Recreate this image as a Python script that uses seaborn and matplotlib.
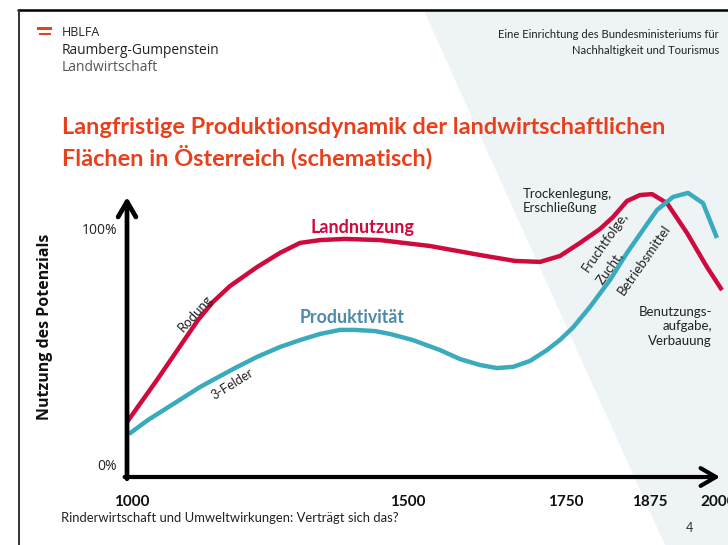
import numpy as np
import pandas as pd
import matplotlib
matplotlib.use('Agg')
import matplotlib.pyplot as plt
from matplotlib.patches import Polygon, Rectangle
from matplotlib.lines import Line2D
import seaborn as sns

# schematic curves (year, % of potential)
land_years = [990.9, 1045.3, 1119.6, 1146.7, 1177.5, 1226.4, 1268.1, 1304.3, 1340.6, 1385.9,
              1449.3, 1534.8, 1613.9, 1669.3, 1708.9, 1740.5, 1770.8, 1800.6, 1819.9, 1840.8,
              1860.1, 1878.7, 1906.2, 1943.0, 1979.8, 2007.3]
land_pct = [18.1, 35.9, 61.2, 68.8, 75.5, 83.5, 89.5, 93.7, 94.9, 95.4,
            94.9, 92.4, 88.6, 86.1, 85.7, 88.2, 93.7, 99.6, 104.6, 111.4,
            113.9, 114.3, 110.5, 97.9, 83.5, 73.8]

prod_years = [994.6, 1029.0, 1077.9, 1123.2, 1146.7, 1186.6, 1226.4, 1268.1, 1304.3, 1340.6,
              1376.8, 1404.0, 1440.2, 1467.4, 1507.9, 1550.6, 1582.3, 1613.9, 1640.8, 1666.1,
              1693.0, 1719.9, 1740.5, 1760.4, 1785.7, 1815.5, 1840.8, 1864.6, 1887.9, 1917.3,
              1944.8, 1972.4, 1998.1]
prod_pct = [13.1, 19.0, 26.2, 32.9, 35.9, 40.9, 45.6, 49.8, 52.7, 55.3,
            57.0, 57.0, 56.5, 55.3, 52.7, 48.5, 44.7, 42.2, 40.9, 41.4,
            43.9, 48.5, 52.8, 58.0, 66.7, 78.1, 89.5, 99.2, 107.6, 113.1,
            114.8, 110.5, 95.8]

tick_years = [1000, 1500, 1750, 1875, 2000]
tick_labels = ['1000', '1500', '1750', '1875', '2000']

land_df = pd.DataFrame({'Jahr': land_years, 'Nutzung': land_pct})
prod_df = pd.DataFrame({'Jahr': prod_years, 'Nutzung': prod_pct})

sns.set_theme(style='white')
plt.rcParams['font.family'] = ['Lato', 'DejaVu Sans']

RED = '#cf0a3d'
CYAN = '#3aabbd'
ORANGE = '#e8401c'
W, H = 728, 545

def fx(x):
    return x / W

def fy(y):
    return 1 - y / H

fig = plt.figure(figsize=(7.28, 5.45), dpi=100)
fig.patch.set_facecolor('white')

# light background shape on the right + slide frame
fig.patches.append(Polygon([(fx(424), fy(11)), (1, fy(11)), (1, 0), (fx(665), 0)],
                           closed=True, transform=fig.transFigure,
                           facecolor='#eef3f6', edgecolor='none', zorder=-5))
fig.add_artist(Line2D([fx(18), 1], [fy(10), fy(10)], color='black', lw=1.8))
fig.add_artist(Line2D([fx(19), fx(19)], [fy(10), 0], color='#333333', lw=1.4))

# logo + header
fig.patches.append(Rectangle((fx(37), fy(29.5)), 15 / W, 2.5 / H, transform=fig.transFigure,
                             facecolor=ORANGE, edgecolor='none'))
fig.patches.append(Rectangle((fx(38.5), fy(35)), 12 / W, 2.5 / H, transform=fig.transFigure,
                             facecolor=ORANGE, edgecolor='none'))
fig.text(fx(62), fy(32), 'HBLFA', family='Open Sans', fontsize=9, color='#222222', va='center')
fig.text(fx(62), fy(50), 'Raumberg-Gumpenstein', family='Open Sans', fontsize=9.9,
         color='#222222', va='center')
fig.text(fx(62), fy(67), 'Landwirtschaft', family='Open Sans', fontsize=10,
         color='#555555', va='center')
fig.text(fx(719), fy(34), 'Eine Einrichtung des Bundesministeriums für', fontsize=8.15,
         color='#222222', ha='right', va='center')
fig.text(fx(719), fy(50), 'Nachhaltigkeit und Tourismus', fontsize=8.15,
         color='#222222', ha='right', va='center')

fig.text(fx(62), fy(128), 'Langfristige Produktionsdynamik der landwirtschaftlichen',
         fontsize=16.9, fontweight='bold', color=ORANGE, va='center')
fig.text(fx(62), fy(157), 'Flächen in Österreich (schematisch)',
         fontsize=16.9, fontweight='bold', color=ORANGE, va='center')

fig.text(fx(61), fy(518), 'Rinderwirtschaft und Umweltwirkungen: Verträgt sich das?',
         fontsize=9.35, color='#222222', va='center')
fig.text(fx(689), fy(528), '4', fontsize=9, color='#333333', ha='center', va='center')

# chart area, non-linear time axis
yr_knots = [900, 1000, 1500, 1750, 1875, 2000, 2100]
pos_knots = [76.8, 132, 408, 566, 650, 718, 772.4]

def forward(v):
    return np.interp(v, yr_knots, pos_knots)

def inverse(v):
    return np.interp(v, pos_knots, yr_knots)

ax = fig.add_axes([fx(127), fy(477), (720 - 127) / W, (477 - 185) / H])
ax.patch.set_alpha(0)
ax.set_xscale('function', functions=(forward, inverse))
ax.set_xlim(inverse(127), inverse(720))
ax.set_ylim(-12 / 2.37, (465 - 185) / 2.37)

sns.lineplot(data=land_df, x='Jahr', y='Nutzung', color=RED, linewidth=3.2, ax=ax,
             clip_on=False, solid_capstyle='butt')
sns.lineplot(data=prod_df, x='Jahr', y='Nutzung', color=CYAN, linewidth=3.2, ax=ax,
             clip_on=False, solid_capstyle='butt')

for s in ax.spines.values():
    s.set_visible(False)
ax.annotate('', xy=(0, 0.959), xytext=(0, -0.006), xycoords='axes fraction',
            arrowprops=dict(arrowstyle='->,head_length=0.55,head_width=0.32', lw=3.4,
                            color='black', shrinkA=0, shrinkB=0, mutation_scale=20))
ax.annotate('', xy=(1.0, 0), xytext=(-0.004, 0), xycoords='axes fraction',
            arrowprops=dict(arrowstyle='->,head_length=0.55,head_width=0.32', lw=3.0,
                            color='black', shrinkA=0, shrinkB=0, mutation_scale=20))

ax.set_xticks(tick_years)
ax.set_xticklabels(tick_labels, fontweight='bold', fontsize=11, color='#111111')
ax.set_yticks([0, 100])
ax.set_yticklabels(['0%', '100%'], family='Open Sans', fontsize=10, color='#222222')
ax.tick_params(axis='x', length=0, pad=13)
ax.tick_params(axis='y', length=0, pad=7)
ax.set_xlabel('')
ax.set_ylabel('Nutzung des Potenzials', family='Open Sans', fontweight='bold', fontsize=11.5,
              color='#111111')
ax.yaxis.set_label_coords(-(127 - 53) / (720 - 127), (477 - 327) / (477 - 185))

# labels on the curves
ax.text(1416.7, 100.4, 'Landnutzung', fontsize=13, fontweight='bold', color=RED,
        ha='center', va='center')
ax.text(1398.6, 62.4, 'Produktivität', fontsize=12.8, fontweight='bold', color='#4d8aab',
        ha='center', va='center')
ax.text(1114.1, 64.0, 'Rodung', fontsize=9.5, rotation=48, color='#222222',
        ha='center', va='center', rotation_mode='anchor')
ax.text(1181.2, 34.2, '3-Felder', fontsize=9.2, rotation=32, color='#222222',
        ha='center', va='center', rotation_mode='anchor')
ax.text(1682, 111.4, 'Trockenlegung,\nErschließung', fontsize=9.5, color='#222222',
        ha='left', va='center', linespacing=1.2)
ax.text(1808, 94.1, 'Fruchtfolge,', fontsize=9.5, rotation=55, color='#222222',
        ha='center', va='center', rotation_mode='anchor')
ax.text(1814, 83.5, 'Zucht,', fontsize=9.5, rotation=55, color='#222222',
        ha='center', va='center', rotation_mode='anchor')
ax.text(1866, 86.5, 'Betriebsmittel', fontsize=9.5, rotation=55, color='#222222',
        ha='center', va='center', rotation_mode='anchor')
ax.text(1989, 58.6, 'Benutzungs-\naufgabe,\nVerbauung', fontsize=9.5, color='#222222',
        ha='right', va='center', multialignment='right', linespacing=1.25)

fig.savefig('out.png', dpi=100)
